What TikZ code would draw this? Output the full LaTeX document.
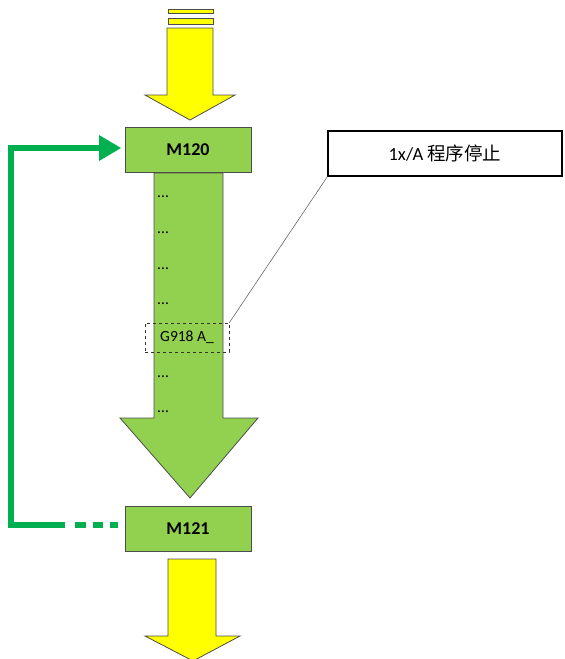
\documentclass[tikz,border=0pt]{standalone}
\usepackage{fontspec}
\setmainfont{Carlito}
\newfontfamily\cjk{Noto Sans CJK SC}
\usetikzlibrary{arrows.meta}
\definecolor{lgreen}{HTML}{92D050}
\definecolor{dgreen}{HTML}{00B050}
\definecolor{yel}{HTML}{FFFF00}
\tikzset{
  ybox/.style={fill=yel, draw=black!70, line width=0.8pt},
  gbox/.style={fill=lgreen, draw=black!70, line width=0.8pt},
  mbox/.style={gbox, minimum width=126pt, minimum height=45pt, inner sep=0pt, font=\bfseries\fontsize{18}{20}\selectfont},
  dots/.style={font=\fontsize{15.5}{17}\selectfont, anchor=west, inner sep=0pt},
  loop/.style={draw=dgreen, line width=6pt}
}
\begin{document}
\begin{tikzpicture}[x=1pt,y=-1pt]
\useasboundingbox (0,0) rectangle (565,659);
% top yellow arrow
\draw[ybox] (168,9) rectangle (213,13);
\draw[ybox] (168,18) rectangle (213,24);
\draw[ybox] (167,28) -- (213,28) -- (213,95) -- (235,95) -- (190,120) -- (145,95) -- (167,95) -- cycle;
% M120
\node[mbox] (m120) at (188,149.5) {M120};
% big green arrow
\draw[gbox] (154,173) -- (223,173) -- (223,418) -- (258,418) -- (190,498) -- (120,418) -- (154,418) -- cycle;
\foreach \yy/\nm in {197/d1,233/d2,269/d3,304/d4,377/d5,412/d6}
  \node[dots] (\nm) at (157,\yy) {...};
\node[draw=black!80, dashed, line width=0.6pt, minimum width=84pt, minimum height=29pt, inner sep=0pt, font=\fontsize{15.5}{17}\selectfont] (g918) at (187,337.5) {G918 A\_};
% callout
\node[draw=black, line width=1.2pt, fill=white, minimum width=234pt, minimum height=45pt, inner sep=0pt, font=\fontsize{18.5}{20}\selectfont] (call) at (445,153.5) {1x/A {\cjk 程序停止}};
\draw[black!60, line width=0.6pt] (g918.north east) -- (call.south west);
% M121
\node[mbox] (m121) at (188,529) {M121};
% bottom yellow arrow
\draw[ybox] (168,559) -- (216,559) -- (216,636) -- (240,636) -- (193,661) -- (145,636) -- (168,636) -- cycle;
% green loop
\coordinate (lb) at (11,525);
\coordinate (lt) at (11,148);
\draw[loop] (65,525) -- (lb) -- (lt) -- (100,148);
\fill[dgreen] (99,135) -- (121,148) -- (99,161) -- cycle;
\fill[dgreen] (75,522) rectangle (86,528);
\fill[dgreen] (93,522) rectangle (103,528);
\fill[dgreen] (110,522) rectangle (118,528);
\end{tikzpicture}
\end{document}
